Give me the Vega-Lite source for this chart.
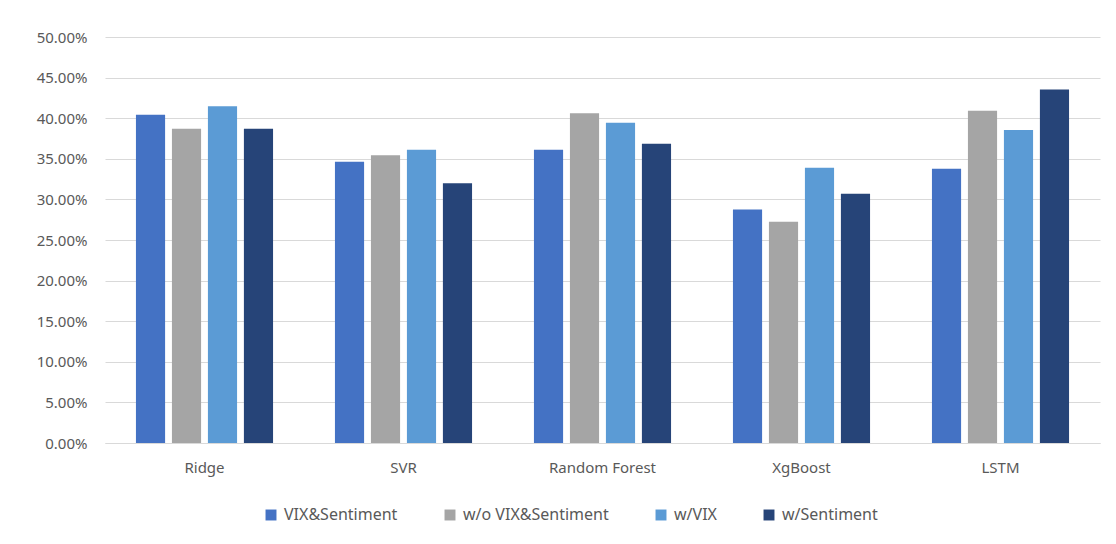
{
  "$schema": "https://vega.github.io/schema/vega-lite/v6.json",
  "width": 995,
  "height": 406,
  "autosize": {"type": "none"},
  "padding": {"left": 105, "top": 37, "right": 16, "bottom": 101},
  "background": "white",
  "config": {
    "view": {"stroke": null},
    "font": "Noto Sans"
  },
  "data": {
    "values": [
      {"model": "Ridge", "series": "VIX&Sentiment", "value": 0.4043},
      {"model": "Ridge", "series": "w/o VIX&Sentiment", "value": 0.3870},
      {"model": "Ridge", "series": "w/VIX", "value": 0.4146},
      {"model": "Ridge", "series": "w/Sentiment", "value": 0.3870},
      {"model": "SVR", "series": "VIX&Sentiment", "value": 0.3464},
      {"model": "SVR", "series": "w/o VIX&Sentiment", "value": 0.3545},
      {"model": "SVR", "series": "w/VIX", "value": 0.3612},
      {"model": "SVR", "series": "w/Sentiment", "value": 0.3200},
      {"model": "Random Forest", "series": "VIX&Sentiment", "value": 0.3612},
      {"model": "Random Forest", "series": "w/o VIX&Sentiment", "value": 0.4060},
      {"model": "Random Forest", "series": "w/VIX", "value": 0.3945},
      {"model": "Random Forest", "series": "w/Sentiment", "value": 0.3686},
      {"model": "XgBoost", "series": "VIX&Sentiment", "value": 0.2876},
      {"model": "XgBoost", "series": "w/o VIX&Sentiment", "value": 0.2724},
      {"model": "XgBoost", "series": "w/VIX", "value": 0.3390},
      {"model": "XgBoost", "series": "w/Sentiment", "value": 0.3070},
      {"model": "LSTM", "series": "VIX&Sentiment", "value": 0.3378},
      {"model": "LSTM", "series": "w/o VIX&Sentiment", "value": 0.4093},
      {"model": "LSTM", "series": "w/VIX", "value": 0.3854},
      {"model": "LSTM", "series": "w/Sentiment", "value": 0.4352}
    ]
  },
  "mark": {"type": "bar"},
  "encoding": {
    "x": {
      "field": "model",
      "type": "nominal",
      "sort": ["Ridge", "SVR", "Random Forest", "XgBoost", "LSTM"],
      "scale": {"paddingInner": 0, "paddingOuter": 0},
      "axis": {
        "title": null,
        "labelAngle": 0,
        "ticks": false,
        "domain": true,
        "domainColor": "#d9d9d9",
        "domainWidth": 1,
        "labelPadding": 17,
        "labelFontSize": 15,
        "labelColor": "#595959"
      }
    },
    "xOffset": {
      "field": "series",
      "type": "nominal",
      "sort": ["VIX&Sentiment", "w/o VIX&Sentiment", "w/VIX", "w/Sentiment"],
      "scale": {"paddingInner": 0.19, "paddingOuter": 0.86}
    },
    "y": {
      "field": "value",
      "type": "quantitative",
      "scale": {"domain": [0, 0.5], "nice": false},
      "axis": {
        "title": null,
        "format": ".2%",
        "values": [0, 0.05, 0.1, 0.15, 0.2, 0.25, 0.3, 0.35, 0.4, 0.45, 0.5],
        "domain": false,
        "ticks": false,
        "grid": true,
        "gridColor": "#d9d9d9",
        "gridWidth": 1,
        "labelPadding": 18,
        "labelFontSize": 15,
        "labelColor": "#595959"
      }
    },
    "color": {
      "field": "series",
      "type": "nominal",
      "scale": {
        "domain": ["VIX&Sentiment", "w/o VIX&Sentiment", "w/VIX", "w/Sentiment"],
        "range": ["#4472C4", "#A5A5A5", "#5B9BD5", "#264478"]
      },
      "legend": {
        "title": null,
        "orient": "none",
        "legendX": 158,
        "legendY": 470,
        "direction": "horizontal",
        "symbolType": "square",
        "symbolSize": 120,
        "symbolStrokeWidth": 0,
        "labelFontSize": 16,
        "labelColor": "#595959",
        "labelLimit": 300,
        "labelOffset": 5,
        "columnPadding": 44
      }
    }
  }
}
